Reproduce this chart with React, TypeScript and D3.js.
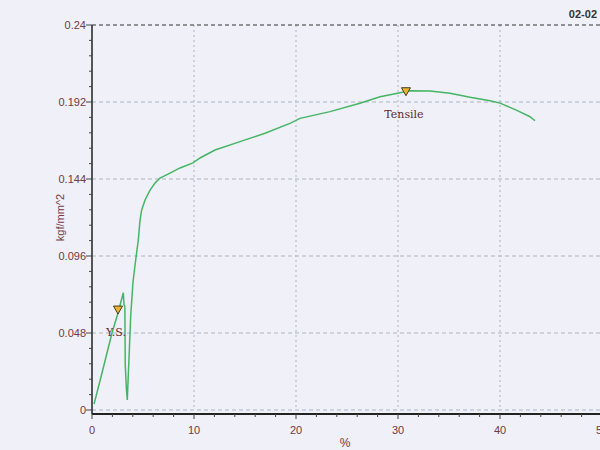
import * as d3 from "d3";

// strain (%) / stress (kgf/mm^2)
const strain = [
  0.2, 0.98, 1.96, 2.55, 3.07, 3.14, 3.22, 3.26, 3.38, 3.46, 3.56, 3.68, 3.8,
  4.02, 4.22, 4.54, 4.71, 4.87, 5.2, 5.69, 6.18, 6.67, 7.65, 8.63, 9.9, 10.59,
  12.06, 14.51, 16.96, 19.41, 20.39, 23.33, 26.27, 28.24, 30.2, 31.18, 33.14,
  35.1, 37.06, 39.02, 40.0, 41.76, 42.94, 43.43,
];
const stress = [
  0.0037, 0.0231, 0.048, 0.0605, 0.0731, 0.0655, 0.0648, 0.0281, 0.0125,
  0.0062, 0.0218, 0.0405, 0.0592, 0.0798, 0.0904, 0.106, 0.1184, 0.1247,
  0.1309, 0.1371, 0.1415, 0.1446, 0.1477, 0.1509, 0.154, 0.1571, 0.1621,
  0.1673, 0.1725, 0.1787, 0.1818, 0.186, 0.1912, 0.1953, 0.1978, 0.199,
  0.1989, 0.1974, 0.1949, 0.1928, 0.1913, 0.1865, 0.1828, 0.1803,
];

const markerNames = ["Y.S.", "Tensile"];
const markerStrain = [2.55, 30.78];
const markerStress = [0.0623, 0.1984];

const xTicks = [0, 10, 20, 30, 40, 50];
const yTicks = [0, 0.048, 0.096, 0.144, 0.192, 0.24];

const labelColor = "#6e3a44";

export default function App() {
  const width = 600;
  const height = 450;
  const x = d3.scaleLinear().domain([0, 50]).range([92, 602]);
  const y = d3.scaleLinear().domain([0, 0.24]).range([410, 25]);

  const pts = strain.map((s, i) => [s, stress[i]] as [number, number]);
  const line = d3
    .line<[number, number]>()
    .x((d) => x(d[0]))
    .y((d) => y(d[1]));

  const xMinor = d3.range(0, 51, 2).filter((v) => v % 10 !== 0);
  const yMinor = d3
    .range(0, 25)
    .map((i) => i * 0.0096)
    .filter((_, i) => i % 5 !== 0);

  const axisY = 414;
  const tri = (cx: number, cy: number) =>
    `M${cx - 4.5},${cy - 4} L${cx + 4.5},${cy - 4} L${cx},${cy + 4} Z`;

  return (
    <svg
      width={width}
      height={height}
      style={{ position: "absolute", left: 0, top: 0, display: "block" }}
      fontFamily="Arial, 'Liberation Sans', sans-serif"
    >
      <rect width={width} height={height} fill="#f0f0f8" />

      {/* grid */}
      {xTicks
        .filter((v) => v > 0 && v < 50)
        .map((v) => (
          <line
            key={"gx" + v}
            x1={x(v)}
            x2={x(v)}
            y1={y(0.24)}
            y2={y(0)}
            stroke="#aab4c6"
            strokeDasharray="2,3"
          />
        ))}
      {yTicks
        .filter((v) => v < 0.24)
        .map((v) => (
          <line
            key={"gy" + v}
            x1={x(0)}
            x2={width}
            y1={y(v)}
            y2={y(v)}
            stroke="#aab4c6"
            strokeDasharray="4,3"
          />
        ))}
      <line
        x1={x(0)}
        x2={width}
        y1={y(0.24)}
        y2={y(0.24)}
        stroke="#333"
        strokeWidth={1.2}
        strokeDasharray="4,3"
      />

      {/* axes */}
      <line x1={x(0)} x2={x(0)} y1={y(0.24)} y2={axisY} stroke="#222" strokeWidth={1.5} />
      <line x1={x(0)} x2={width} y1={axisY} y2={axisY} stroke="#222" strokeWidth={2} />

      {yTicks.map((v) => (
        <g key={"yt" + v}>
          <line x1={x(0) - 6} x2={x(0)} y1={y(v)} y2={y(v)} stroke="#444" />
          <text
            x={x(0) - 6}
            y={y(v)}
            dy="0.35em"
            textAnchor="end"
            fontSize={11}
            fill={labelColor}
          >
            {v}
          </text>
        </g>
      ))}
      {yMinor.map((v) => (
        <line key={"ym" + v} x1={x(0) - 3} x2={x(0)} y1={y(v)} y2={y(v)} stroke="#444" />
      ))}

      {xTicks.map((v) => (
        <g key={"xt" + v}>
          <line x1={x(v)} x2={x(v)} y1={axisY} y2={axisY + 5} stroke="#444" />
          <text x={x(v)} y={434} textAnchor="middle" fontSize={11} fill={labelColor}>
            {v}
          </text>
        </g>
      ))}
      {xMinor.map((v) => (
        <line key={"xm" + v} x1={x(v)} x2={x(v)} y1={axisY} y2={axisY + 3} stroke="#444" />
      ))}

      <text x={345} y={447} textAnchor="middle" fontSize={12} fill={labelColor}>
        %
      </text>
      <text
        transform={`translate(64,${(y(0) + y(0.24)) / 2}) rotate(-90)`}
        textAnchor="middle"
        fontSize={11}
        fill={labelColor}
      >
        kgf/mm^2
      </text>
      <text x={597} y={18} textAnchor="end" fontSize={11} fontWeight="bold" fill="#333">
        02-02
      </text>

      {/* curve */}
      <path d={line(pts) ?? ""} fill="none" stroke="#45b565" strokeWidth={1.5} />

      {/* markers */}
      {markerNames.map((name, i) => {
        const cx = x(markerStrain[i]);
        const cy = y(markerStress[i]);
        return (
          <g key={name}>
            <path d={tri(cx, cy)} fill="#e8b52c" stroke="#4a3a1a" strokeWidth={1} />
            <text
              x={cx - 2}
              y={cy + 26}
              textAnchor="middle"
              fontSize={11}
              fontFamily="'DejaVu Serif', 'Liberation Serif', serif"
              fill="#5b2a33"
            >
              {name}
            </text>
          </g>
        );
      })}
    </svg>
  );
}
